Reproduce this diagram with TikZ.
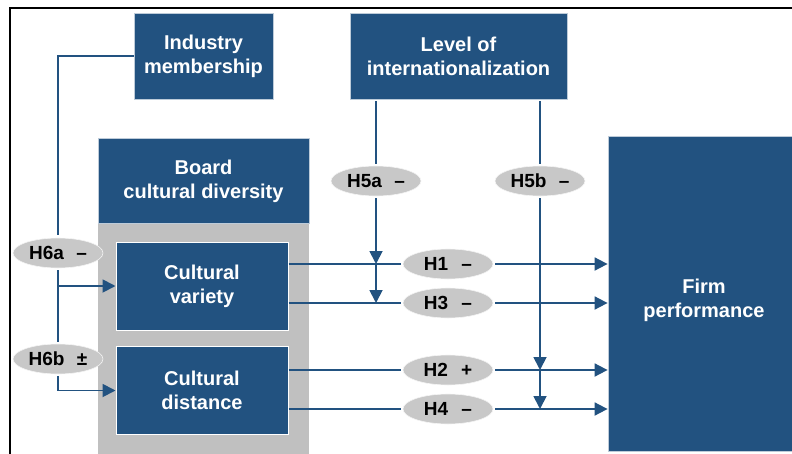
\documentclass[tikz,border=0pt]{standalone}
\usepackage{fontspec}
\setmainfont{Liberation Sans}
\usetikzlibrary{arrows.meta,shapes.geometric}
\definecolor{dblue}{RGB}{34,82,128}
\definecolor{panelgray}{RGB}{192,192,192}
\definecolor{ellgray}{RGB}{200,200,200}
\begin{document}
\begin{tikzpicture}[x=1pt,y=-1pt,
  box/.style={rectangle, fill=dblue, draw=white!70!dblue, line width=0.8pt, text=white,
    font=\bfseries\fontsize{20}{24}\selectfont, align=center, inner sep=0pt},
  hyp/.style={ellipse, fill=ellgray, draw=white!80!ellgray, line width=0.6pt,
    minimum width=90pt, minimum height=30pt, inner sep=0pt,
    font=\bfseries\fontsize{19}{22}\selectfont},
  conn/.style={draw=dblue, line width=1.8pt},
  arr/.style={conn, -{Triangle[length=13pt,width=13pt]}},
]
\useasboundingbox (0,0) rectangle (792,453);
\clip (0,0) rectangle (792,453);

% frame
\draw[line width=2pt, black] (9.5,460) -- (9.5,7.5) -- (800,7.5);

% boxes
\node[box, minimum width=139pt, minimum height=86pt] (ind) at (203.5,56) {Industry\\membership};
\node[box, minimum width=217pt, minimum height=86pt] (lev) at (458.5,56) {Level of\\internationalization};
\node[rectangle, fill=panelgray, inner sep=0pt, minimum width=211pt, minimum height=236pt] (panel) at (203.5,340) {};
\node[box, minimum width=211pt, minimum height=85pt] (board) at (203.5,181) {Board\\cultural diversity};
\node[box, draw=white, line width=1pt, minimum width=172pt, minimum height=88pt] (cv) at (202,286) {Cultural\\variety};
\node[box, draw=white, line width=1pt, minimum width=172pt, minimum height=88pt] (cd) at (202,390.5) {Cultural\\distance};
\node[box, minimum width=192pt, minimum height=315pt] (firm) at (704,294) {};
\node[text=white, font=\bfseries\fontsize{20}{24}\selectfont, align=center, inner sep=0pt] (firmtxt) at (704,300) {Firm\\performance};

% hypotheses
\node[hyp] (h6a) at (58,253) {H6a\hspace{0.65em}–};
\node[hyp] (h6b) at (58,359) {H6b\hspace{0.65em}±};
\node[hyp] (h5a) at (376,181) {H5a\hspace{0.65em}–};
\node[hyp] (h5b) at (540,181) {H5b\hspace{0.65em}–};
\node[hyp] (h1) at (448,264) {H1\hspace{0.7em}–};
\node[hyp] (h3) at (448,303) {H3\hspace{0.7em}–};
\node[hyp] (h2) at (448,370) {H2\hspace{0.7em}+};
\node[hyp] (h4) at (448,409) {H4\hspace{0.7em}–};

% industry connectors
\draw[conn, shorten >=3pt] (ind.west) -| (h6a.north);
\draw[arr, shorten <=2pt] (h6a.south) |- (cv.west);
\draw[conn, shorten <=2pt, shorten >=2pt] (h6a.south) -- (h6b.north);
\draw[arr, shorten <=2pt] (h6b.south) |- (cd.west);

% internationalization connectors
\draw[conn, shorten <=2pt, shorten >=2pt] (lev.south -| h5a.north) -- (h5a.north);
\draw[arr, shorten <=2pt] (h5a.south) -- (h5a.south |- h1.west);
\draw[arr] (h5a.south |- h1.west) -- (h5a.south |- h3.west);
\draw[conn, shorten <=2pt, shorten >=2pt] (lev.south -| h5b.north) -- (h5b.north);
\draw[arr, shorten <=2pt] (h5b.south) -- (h5b.south |- h2.west);
\draw[arr] (h5b.south |- h2.west) -- (h5b.south |- h4.west);

% main effects
\foreach \h/\b in {h1/cv, h3/cv, h2/cd, h4/cd} {
  \draw[conn, shorten >=2pt] (\b.east |- \h.west) -- (\h.west);
  \draw[arr, shorten <=2pt] (\h.east) -- (firm.west |- \h.east);
}
\end{tikzpicture}
\end{document}
